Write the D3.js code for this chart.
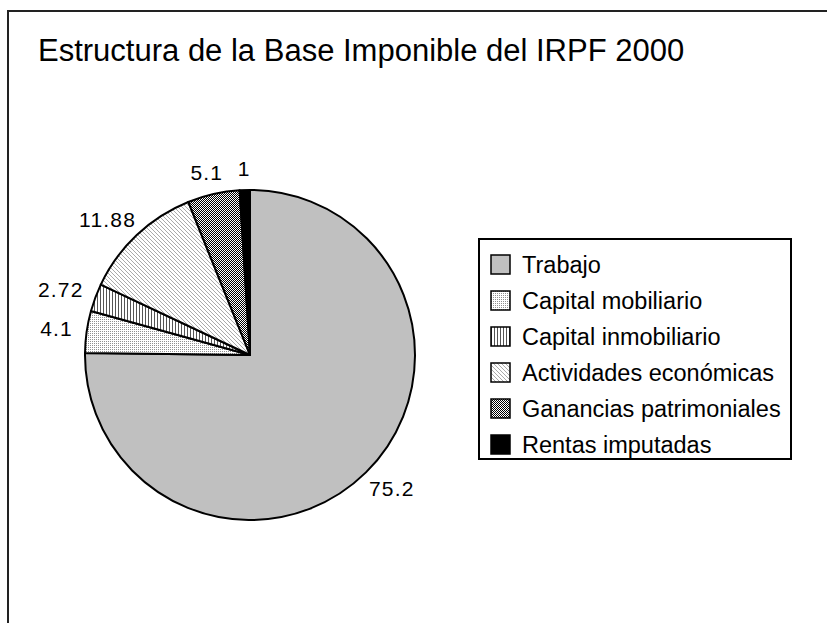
<!DOCTYPE html>
<html>
<head>
<meta charset="utf-8">
<script src="https://cdn.jsdelivr.net/npm/d3@7"></script>
<style>
  body { margin: 0; background: #fff; }
  svg text { font-family: "Liberation Sans", Arial, sans-serif; fill: #000; }
</style>
</head>
<body>
<div class="chart"></div>
<script>
// data
var categories = ["Trabajo", "Capital mobiliario", "Capital inmobiliario",
  "Actividades económicas", "Ganancias patrimoniales", "Rentas imputadas"];
var values = [75.2, 4.1, 2.72, 11.88, 5.1, 1];
var valueLabels = ["75.2", "4.1", "2.72", "11.88", "5.1", "1"];
var fills = ["#c0c0c0", "url(#p-dots)", "url(#p-vert)", "url(#p-diag)", "url(#p-check)", "#000"];
var title = "Estructura de la Base Imponible del IRPF 2000";

var svgWidth = 827, svgHeight = 623;

var svg = d3.select(".chart")
  .append("svg")
  .attr("width", svgWidth)
  .attr("height", svgHeight);

// patterns (Excel style fills)
var defs = svg.append("defs");

var pDots = defs.append("pattern").attr("id", "p-dots")
  .attr("patternUnits", "userSpaceOnUse").attr("width", 2).attr("height", 2);
pDots.append("rect").attr("width", 2).attr("height", 2).attr("fill", "#fff");
pDots.append("rect").attr("width", 1).attr("height", 1).attr("fill", "#909090");

var pVert = defs.append("pattern").attr("id", "p-vert")
  .attr("patternUnits", "userSpaceOnUse").attr("width", 3).attr("height", 3);
pVert.append("rect").attr("width", 3).attr("height", 3).attr("fill", "#fff");
pVert.append("rect").attr("width", 1).attr("height", 3).attr("fill", "#555");

var pDiag = defs.append("pattern").attr("id", "p-diag")
  .attr("patternUnits", "userSpaceOnUse").attr("width", 4).attr("height", 4);
pDiag.append("rect").attr("width", 4).attr("height", 4).attr("fill", "#fff");
pDiag.append("path").attr("d", "M0,0L4,4M-1,3L1,5M3,-1L5,1")
  .attr("stroke", "#aaa").attr("stroke-width", 1);

var pCheck = defs.append("pattern").attr("id", "p-check")
  .attr("patternUnits", "userSpaceOnUse").attr("width", 2).attr("height", 2);
pCheck.append("rect").attr("width", 2).attr("height", 2).attr("fill", "#fff");
pCheck.append("rect").attr("width", 1).attr("height", 1).attr("fill", "#000");
pCheck.append("rect").attr("x", 1).attr("y", 1).attr("width", 1).attr("height", 1).attr("fill", "#000");

// outer frame (runs off the right and bottom)
svg.append("rect")
  .attr("x", 8).attr("y", 11)
  .attr("width", 900).attr("height", 700)
  .attr("fill", "none")
  .attr("stroke", "#222")
  .attr("stroke-width", 2);

// title
svg.append("text")
  .attr("x", 38)
  .attr("y", 61)
  .attr("font-size", 31)
  .text(title);

// pie
var cx = 250, cy = 355, radius = 165;
var chartGroup = svg.append("g")
  .attr("transform", `translate(${cx}, ${cy})`);

var pie = d3.pie().sort(null).value(d => d);
var arcs = pie(values);
var arc = d3.arc().innerRadius(0).outerRadius(radius);

chartGroup.selectAll("path.slice")
  .data(arcs)
  .enter()
  .append("path")
  .attr("class", "slice")
  .attr("d", arc)
  .attr("fill", (d, i) => fills[i])
  .attr("stroke", "#000")
  .attr("stroke-width", 2)
  .attr("stroke-linejoin", "round");

// value labels outside the pie
var gap = 14;
chartGroup.selectAll("text.lbl")
  .data(arcs)
  .enter()
  .append("text")
  .attr("class", "lbl")
  .attr("font-size", 21)
  .attr("letter-spacing", 1.2)
  .attr("text-anchor", "middle")
  .attr("dominant-baseline", "central")
  .text((d, i) => valueLabels[i])
  .each(function(d) {
    var a = (d.startAngle + d.endAngle) / 2;
    var s = Math.sin(a), c = -Math.cos(a);
    var w = this.getComputedTextLength(), h = 16;
    var x = (radius + gap) * s + s * w / 2;
    var y = (radius + gap) * c + c * h / 2;
    d3.select(this).attr("x", x).attr("y", y);
  });

// legend
var legend = svg.append("g").attr("transform", "translate(479, 239)");
legend.append("rect")
  .attr("width", 312).attr("height", 220)
  .attr("fill", "#fff")
  .attr("stroke", "#000")
  .attr("stroke-width", 2);

var rowY = d3.scalePoint()
  .domain(categories)
  .range([26, 206]);

var rows = legend.selectAll("g.row")
  .data(categories)
  .enter()
  .append("g")
  .attr("class", "row")
  .attr("transform", d => `translate(0, ${rowY(d)})`);

rows.append("rect")
  .attr("x", 12).attr("y", -10)
  .attr("width", 19).attr("height", 19)
  .attr("fill", (d, i) => fills[i])
  .attr("stroke", "#000")
  .attr("stroke-width", 1.5);

rows.append("text")
  .attr("x", 43)
  .attr("y", 0)
  .attr("dy", "0.35em")
  .attr("font-size", 23.5)
  .text(d => d);
</script>
</body>
</html>
